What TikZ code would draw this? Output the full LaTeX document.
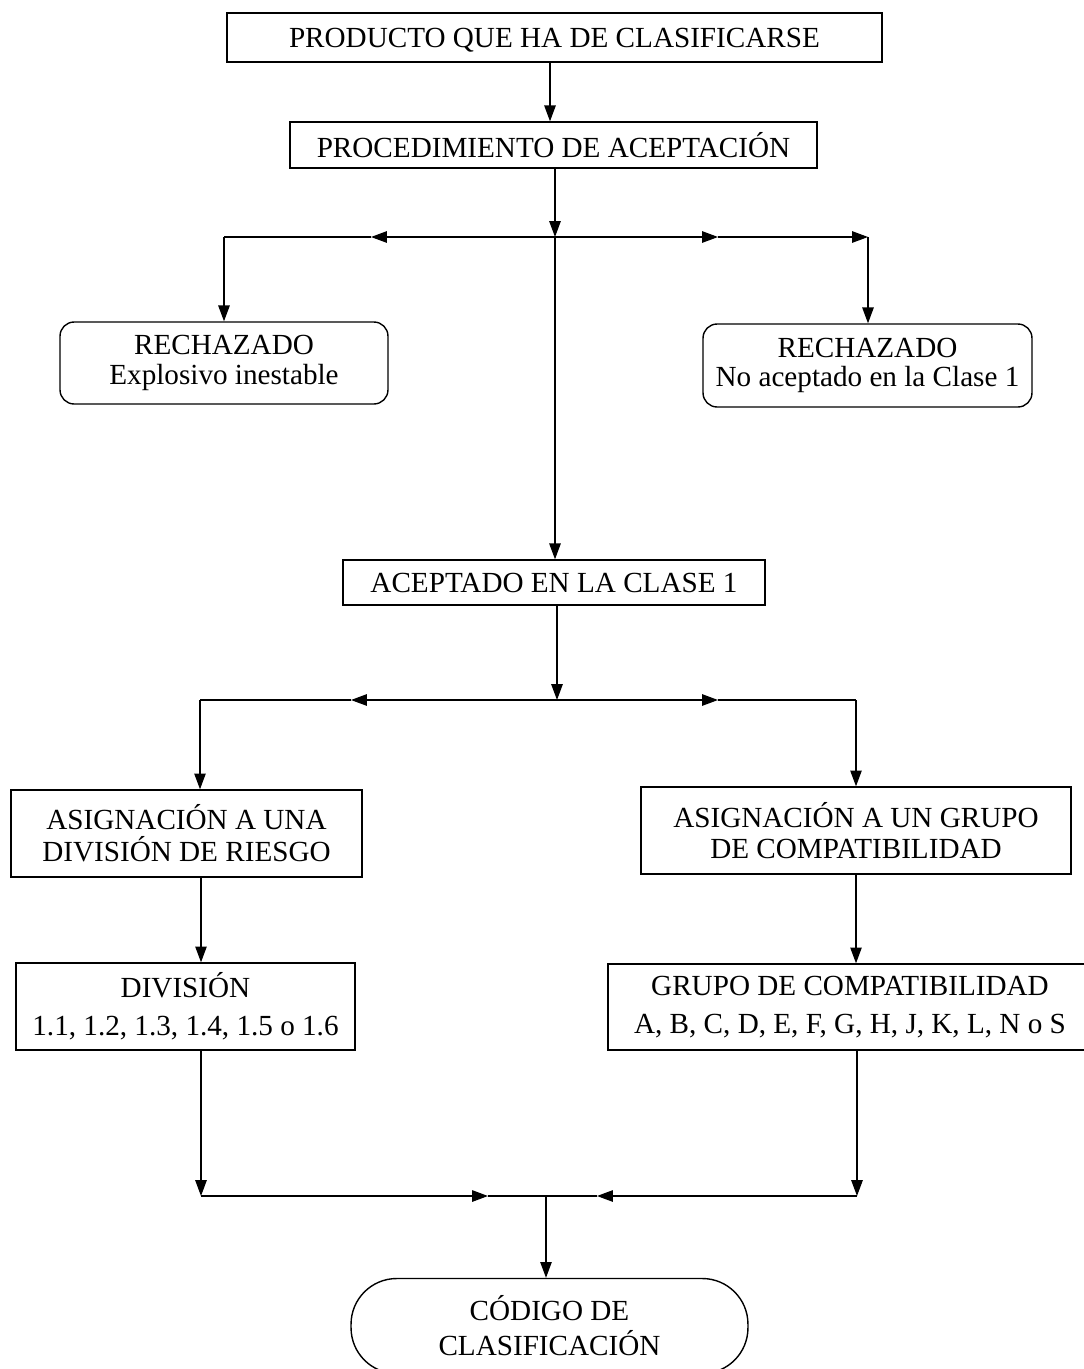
\documentclass[tikz,border=0pt]{standalone}
\usepackage{fontspec}
\setmainfont{Liberation Serif}
\usetikzlibrary{arrows.meta}

\begin{document}
\begin{tikzpicture}[x=0.02cm,y=-0.02cm,
  caja/.style={draw,line width=0.8pt,inner sep=0pt,align=center,font=\fontsize{16.6}{18}\selectfont},
  simple/.style={caja,text depth=0pt},
  ancha/.style={font=\fontsize{16.6}{21.6}\selectfont},
  redonda/.style={caja,rounded corners=8pt,font=\fontsize{16.6}{17}\selectfont},
  final/.style={caja,rounded corners=26pt,font=\fontsize{16.6}{20}\selectfont},
  flecha/.style={line width=0.7pt,-{Triangle[length=9pt,width=6.5pt]}},
  linea/.style={line width=0.7pt}]
\useasboundingbox (0,0) rectangle (1084,1369);

\node[simple,minimum width=13.1cm,minimum height=0.98cm] (producto) at (554.5,37.5) {PRODUCTO QUE HA DE CLASIFICARSE};
\node[simple,minimum width=10.54cm,minimum height=0.92cm] (procedimiento) at (553.5,145) {PROCEDIMIENTO DE ACEPTACIÓN};
\node[redonda,minimum width=6.56cm,minimum height=1.64cm] (rechazoA) at (224,363) {RECHAZADO\\Explosivo inestable};
\node[redonda,minimum width=6.58cm,minimum height=1.66cm] (rechazoB) at (867.5,365.5) {RECHAZADO\\No aceptado en la Clase 1};
\node[simple,minimum width=8.44cm,minimum height=0.9cm] (aceptado) at (554,582.5) {ACEPTADO EN LA CLASE 1};
\node[caja,minimum width=7.02cm,minimum height=1.74cm] (asigDiv) at (186.5,833.5) {ASIGNACIÓN A UNA\\DIVISIÓN DE RIESGO};
\node[caja,minimum width=8.6cm,minimum height=1.74cm] (asigGrupo) at (856,830.5) {ASIGNACIÓN A UN GRUPO\\DE COMPATIBILIDAD};
\node[caja,ancha,minimum width=6.78cm,minimum height=1.74cm] (division) at (185.5,1006.5) {DIVISIÓN\\1.1, 1.2, 1.3, 1.4, 1.5 o 1.6};
\node[caja,ancha,minimum width=9.68cm,minimum height=1.72cm] (grupo) at (850,1007) {GRUPO DE COMPATIBILIDAD\\A, B, C, D, E, F, G, H, J, K, L, N o S};
\node[final,minimum width=7.94cm,minimum height=1.9cm] (codigo) at (549.5,1326) {CÓDIGO DE\\CLASIFICACIÓN};

% primer reparto
\coordinate (cruce1) at (555,237);
\coordinate (izq1) at (224,237);
\coordinate (der1) at (868,237);
\coordinate (mizq1) at (371,237);
\coordinate (mder1) at (718,237);
% segundo reparto
\coordinate (cruce2) at (557,700);
\coordinate (izq2) at (200,700);
\coordinate (der2) at (856,700);
\coordinate (mizq2) at (351,700);
\coordinate (mder2) at (718,700);
% union final
\coordinate (cruce3) at (546,1196);
\coordinate (izq3) at (201,1196);
\coordinate (der3) at (857,1196);
\coordinate (mizq3) at (488,1196);
\coordinate (mder3) at (597,1196);

\draw[flecha] (producto.south -| 550,0) -- (procedimiento.north -| 550,0);
\draw[flecha] (procedimiento.south -| cruce1) -- (cruce1);
\draw[flecha] (cruce1) -- (mizq1);
\draw[linea] (mizq1) -- (izq1);
\draw[flecha] (izq1) -- (rechazoA.north -| izq1);
\draw[flecha] (cruce1) -- (mder1);
\draw[flecha] (mder1) -- (der1);
\draw[flecha] (der1) -- (rechazoB.north -| der1);
\draw[flecha] (cruce1) -- (aceptado.north -| cruce1);

\draw[flecha] (aceptado.south -| cruce2) -- (cruce2);
\draw[flecha] (cruce2) -- (mizq2);
\draw[linea] (mizq2) -- (izq2);
\draw[flecha] (izq2) -- (asigDiv.north -| izq2);
\draw[flecha] (cruce2) -- (mder2);
\draw[linea] (mder2) -- (der2);
\draw[flecha] (der2) -- (asigGrupo.north -| der2);

\draw[flecha] (asigDiv.south -| izq3) -- (division.north -| izq3);
\draw[flecha] (asigGrupo.south -| der2) -- (grupo.north -| der2);

\draw[flecha] (division.south -| izq3) -- (izq3);
\draw[flecha] (izq3) -- (mizq3);
\draw[linea] (mizq3) -- (cruce3);
\draw[flecha] (grupo.south -| der3) -- (der3);
\draw[flecha] (der3) -- (mder3);
\draw[linea] (mder3) -- (cruce3);
\draw[flecha] (cruce3) -- (codigo.north -| cruce3);
\end{tikzpicture}
\end{document}
